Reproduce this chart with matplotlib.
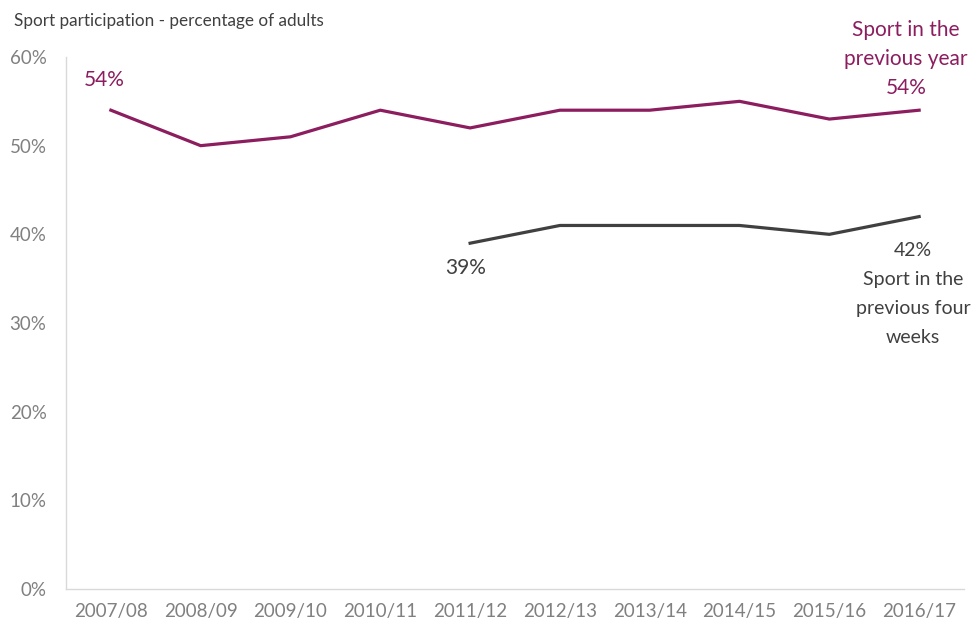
import matplotlib
matplotlib.use('Agg')
from matplotlib import pyplot as plt
from matplotlib.ticker import FuncFormatter

years = ['2007/08', '2008/09', '2009/10', '2010/11', '2011/12',
         '2012/13', '2013/14', '2014/15', '2015/16', '2016/17']
prev_year = [54, 50, 51, 54, 52, 54, 54, 55, 53, 54]
four_weeks_years = ['2011/12', '2012/13', '2013/14', '2014/15', '2015/16', '2016/17']
four_weeks = [39, 41, 41, 41, 40, 42]

PURPLE = '#8c1d5f'
DARK = '#404040'
GREY = '#808080'

plt.rcParams['font.family'] = ['Lato', 'DejaVu Sans']

fig = plt.figure(figsize=(9.73, 6.27), dpi=100)
ax = fig.add_axes([0.0678, 0.0606, 0.923, 0.8485])

xs = list(range(len(years)))
xs4 = [years.index(y) for y in four_weeks_years]
ax.plot(xs, prev_year, color=PURPLE, lw=2.3, solid_joinstyle='round')
ax.plot(xs4, four_weeks, color=DARK, lw=2.3, solid_joinstyle='round')

ax.set_xlim(-0.5, len(years) - 0.5)
ax.set_ylim(0, 60)
ax.set_yticks(range(0, 61, 10))
ax.yaxis.set_major_formatter(FuncFormatter(lambda v, p: '{:d}%'.format(int(v))))
ax.set_xticks(xs)
ax.set_xticklabels(years)
ax.tick_params(length=0, labelsize=13.5, colors=GREY)
ax.tick_params(axis='x', pad=10)
ax.tick_params(axis='y', pad=14)

for s in ['top', 'right']:
    ax.spines[s].set_visible(False)
for s in ['left', 'bottom']:
    ax.spines[s].set_color('#d9d9d9')
    ax.spines[s].set_linewidth(1)

# labels
ax.text(xs[0] - 0.07, prev_year[0] + 3.4, '{}%'.format(prev_year[0]),
        color=PURPLE, fontsize=15, ha='center', va='center')
ax.text(xs[-1] - 0.145, prev_year[-1] + 10.2,
        'Sport in the\nprevious year\n{}%'.format(prev_year[-1]),
        color=PURPLE, fontsize=15, ha='center', va='top', linespacing=1.56,
        clip_on=False)
ax.text(xs4[0] - 0.05, four_weeks[0] - 2.8, '{}%'.format(four_weeks[0]),
        color=DARK, fontsize=15, ha='center', va='center')
ax.text(xs[-1] - 0.07, four_weeks[-1] - 2.9,
        '{}%\nSport in the\nprevious four\nweeks'.format(four_weeks[-1]),
        color=DARK, fontsize=14, ha='center', va='top', linespacing=1.86)

fig.text(0.0144, 0.966, 'Sport participation - percentage of adults',
         color=DARK, fontsize=12.3, ha='left', va='center')

plt.savefig('out.png', dpi=100)
